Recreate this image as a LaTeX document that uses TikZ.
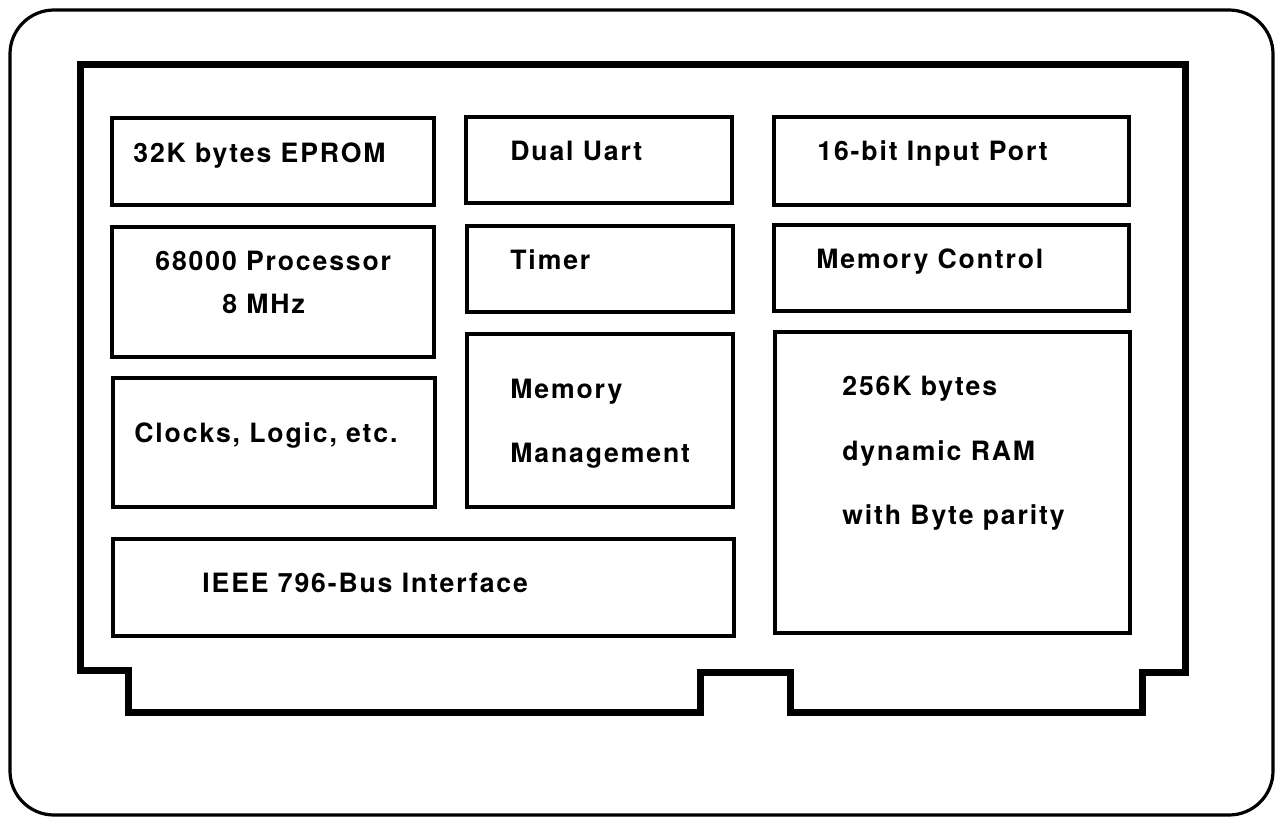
\documentclass[tikz,border=0pt]{standalone}
\usepackage{fontspec}
\newfontfamily\hv{TeX Gyre Heros}[LetterSpace=7]
\begin{document}
\begin{tikzpicture}[x=0.5pt,y=-0.5pt,
  board/.style={line width=3.5pt,line join=miter},
  blk/.style={line width=2pt},
  frame/.style={line width=1.6pt,rounded corners=22pt},
  lbl/.style={anchor=base west,inner sep=0pt,font=\hv\bfseries\fontsize{13.3}{16}\selectfont}]
\useasboundingbox (0,0) rectangle (1280,819);
% outer frame
\draw[frame] (10,10) rectangle (1273,815);
% board outline
\draw[board] (80,64) -- (1185,64) -- (1185,672) -- (1142,672) -- (1142,712)
  -- (790,712) -- (790,672) -- (700,672) -- (700,712) -- (128,712)
  -- (128,670) -- (80,670) -- cycle;
% blocks
\draw[blk] (112,118) rectangle (434,205);
\draw[blk] (112,227) rectangle (434,357);
\draw[blk] (113,378) rectangle (435,507);
\draw[blk] (113,539) rectangle (734,636);
\draw[blk] (466,117) rectangle (732,203);
\draw[blk] (467,226) rectangle (733,312);
\draw[blk] (467,334) rectangle (733,507);
\draw[blk] (774,117) rectangle (1129,205);
\draw[blk] (774,225) rectangle (1129,311);
\draw[blk] (775,332) rectangle (1130,633);
% labels
\node[lbl] (eprom) at (133,162) {32K bytes EPROM};
\node[lbl] (cpu1) at (155,270) {68000 Processor};
\node[lbl] (cpu2) at (222,313) {8 MHz};
\node[lbl] (clk) at (134,442) {Clocks, Logic, etc.};
\node[lbl] (bus) at (202,592) {IEEE 796-Bus Interface};
\node[lbl] (uart) at (510,160) {Dual Uart};
\node[lbl] (timer) at (510,269) {Timer};
\node[lbl] (mm1) at (510,398) {Memory};
\node[lbl] (mm2) at (510,462) {Management};
\node[lbl] (inp) at (817,160) {16-bit Input Port};
\node[lbl] (mctl) at (816,268) {Memory Control};
\node[lbl] (ram1) at (842,395) {256K bytes};
\node[lbl] (ram2) at (842,460) {dynamic RAM};
\node[lbl] (ram3) at (842,524) {with Byte parity};
\end{tikzpicture}
\end{document}
